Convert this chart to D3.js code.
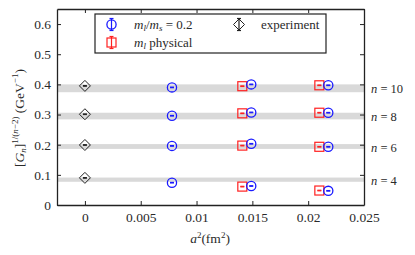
<!DOCTYPE html>
<html>
<head>
<meta charset="utf-8">
<script src="https://cdn.jsdelivr.net/npm/d3@7"></script>
<style>
  body { margin: 0; background: #fff; }
  text { font-family: 'Liberation Serif', 'DejaVu Serif', serif; fill: #2a2a2a; }
</style>
</head>
<body>
<div id="app"></div>
<script>
// values
var nValues = [4, 6, 8, 10]
var bandCenter = [0.084, 0.194, 0.295, 0.387]
var bandHalf = [0.007, 0.008, 0.011, 0.013]
var experiment = [0.090, 0.199, 0.301, 0.395]

var blueA2 = [0.0078, 0.0149, 0.0218]
var blueVals = [
  [0.074, 0.063, 0.047],
  [0.196, 0.203, 0.193],
  [0.296, 0.307, 0.306],
  [0.390, 0.400, 0.397]
]
var redA2 = [0.0141, 0.0210]
var redVals = [
  [0.061, 0.048],
  [0.197, 0.193],
  [0.304, 0.306],
  [0.394, 0.397]
]
var errBar = 0.003

var xTicks = [0, 0.005, 0.01, 0.015, 0.02, 0.025]
var yTicks = [0, 0.1, 0.2, 0.3, 0.4, 0.5, 0.6]

var W = 415, H = 255
var m = { left: 57, right: 51, top: 9, bottom: 50 }
var fs = 13.5

var svg = d3.select('#app').append('svg')
  .attr('width', W).attr('height', H)

var x = d3.scaleLinear().domain([-0.0025, 0.025]).range([m.left, W - m.right])
var y = d3.scaleLinear().domain([0, 0.65]).range([H - m.bottom, m.top])

// bands
svg.append('g').selectAll('rect').data(nValues).enter().append('rect')
  .attr('x', x.range()[0])
  .attr('width', x.range()[1] - x.range()[0])
  .attr('y', function(d, i) { return y(bandCenter[i] + bandHalf[i]) })
  .attr('height', function(d, i) { return y(bandCenter[i] - bandHalf[i]) - y(bandCenter[i] + bandHalf[i]) })
  .attr('fill', '#d9d9d9')

// axes, ticks pointing inward
var fmt = function(d) { return d === 0 ? '0' : String(+d.toFixed(3)) }
var gx = svg.append('g').attr('transform', 'translate(0,' + y.range()[0] + ')')
  .call(d3.axisBottom(x).tickValues(xTicks).tickFormat(fmt).tickSizeInner(-4).tickSizeOuter(0).tickPadding(7))
var gxt = svg.append('g').attr('transform', 'translate(0,' + y.range()[1] + ')')
  .call(d3.axisTop(x).tickValues(xTicks).tickFormat('').tickSizeInner(-4).tickSizeOuter(0))
var gy = svg.append('g').attr('transform', 'translate(' + x.range()[0] + ',0)')
  .call(d3.axisLeft(y).tickValues(yTicks).tickFormat(fmt).tickSizeInner(-4).tickSizeOuter(0).tickPadding(6))
var gyr = svg.append('g').attr('transform', 'translate(' + x.range()[1] + ',0)')
  .call(d3.axisRight(y).tickValues(yTicks).tickFormat('').tickSizeInner(-4).tickSizeOuter(0))

;[gx, gxt, gy, gyr].forEach(function(g) {
  g.select('.domain').attr('stroke', '#222').attr('stroke-width', 1.3)
  g.selectAll('.tick line').attr('stroke', '#222')
  g.selectAll('.tick text').attr('font-size', fs).attr('font-family', "'Liberation Serif', serif").attr('fill', '#333')
})

// markers
function errLine(g, cx, cy, half, color) {
  g.append('line').attr('x1', cx).attr('x2', cx).attr('y1', cy - half).attr('y2', cy + half)
    .attr('stroke', color).attr('stroke-width', 1.2)
  g.append('line').attr('x1', cx - 2).attr('x2', cx + 2).attr('y1', cy - half).attr('y2', cy - half)
    .attr('stroke', color).attr('stroke-width', 1.2)
  g.append('line').attr('x1', cx - 2).attr('x2', cx + 2).attr('y1', cy + half).attr('y2', cy + half)
    .attr('stroke', color).attr('stroke-width', 1.2)
}
function circleMark(g, cx, cy, half) {
  g.append('circle').attr('cx', cx).attr('cy', cy).attr('r', 4.6)
    .attr('fill', 'none').attr('stroke', '#1a1aff').attr('stroke-width', 1.3)
  errLine(g, cx, cy, half, '#1a1aff')
}
function squareMark(g, cx, cy, half) {
  g.append('rect').attr('x', cx - 4.5).attr('y', cy - 4.5).attr('width', 9).attr('height', 9)
    .attr('fill', 'none').attr('stroke', '#ff2020').attr('stroke-width', 1.2)
  errLine(g, cx, cy, half, '#ff2020')
}
function diamondMark(g, cx, cy, half) {
  g.append('path').attr('d', 'M' + cx + ',' + (cy - 5.5) + 'L' + (cx + 5.5) + ',' + cy + 'L' + cx + ',' + (cy + 5.5) + 'L' + (cx - 5.5) + ',' + cy + 'Z')
    .attr('fill', 'none').attr('stroke', '#222').attr('stroke-width', 1)
  errLine(g, cx, cy, half, '#222')
}

var marks = svg.append('g')
var eh = function(v) { return Math.abs(y(v) - y(v + errBar)) }
nValues.forEach(function(n, i) {
  diamondMark(marks, x(0), y(experiment[i]), eh(experiment[i]) * 0.3)
  redA2.forEach(function(a, j) {
    squareMark(marks, x(a), y(redVals[i][j]), eh(redVals[i][j]) * 0.3)
  })
  blueA2.forEach(function(a, j) {
    circleMark(marks, x(a), y(blueVals[i][j]), eh(blueVals[i][j]) * 0.3)
  })
})

// n labels on the right
svg.append('g').selectAll('text').data(nValues).enter().append('text')
  .attr('x', x.range()[1] + 7)
  .attr('y', function(d, i) { return y(bandCenter[i]) + 5 })
  .attr('font-size', 12.5)
  .each(function(d) {
    var t = d3.select(this)
    t.append('tspan').attr('font-style', 'italic').text('n')
    t.append('tspan').text(' = ' + d)
  })

// legend
var lg = svg.append('g')
lg.append('rect').attr('x', 95).attr('y', 14).attr('width', 231).attr('height', 39)
  .attr('fill', '#fff').attr('stroke', '#222').attr('stroke-width', 1.2)
circleMark(lg, 111.5, 24.5, 6)
squareMark(lg, 111.5, 42.5, 6)
diamondMark(lg, 239, 24.5, 6)
var t1 = lg.append('text').attr('x', 134).attr('y', 29).attr('font-size', 13)
t1.append('tspan').attr('font-style', 'italic').text('m')
t1.append('tspan').attr('font-style', 'italic').attr('font-size', 9).attr('dy', 2).text('l')
t1.append('tspan').attr('dy', -2).text('/')
t1.append('tspan').attr('font-style', 'italic').text('m')
t1.append('tspan').attr('font-style', 'italic').attr('font-size', 9).attr('dy', 2).text('s')
t1.append('tspan').attr('dy', -2).text(' = 0.2')
var t2 = lg.append('text').attr('x', 134).attr('y', 46.5).attr('font-size', 13)
t2.append('tspan').attr('font-style', 'italic').text('m')
t2.append('tspan').attr('font-style', 'italic').attr('font-size', 9).attr('dy', 2).text('l')
t2.append('tspan').attr('dy', -2).text(' physical')
lg.append('text').attr('x', 261).attr('y', 29).attr('font-size', 13).text('experiment')

// axis titles
var xl = svg.append('text').attr('x', 210).attr('y', 243).attr('text-anchor', 'middle').attr('font-size', 13.5)
xl.append('tspan').attr('font-style', 'italic').text('a')
xl.append('tspan').attr('font-size', 9).attr('dy', -5).text('2')
xl.append('tspan').attr('dy', 5).text('(fm')
xl.append('tspan').attr('font-size', 9).attr('dy', -5).text('2')
xl.append('tspan').attr('dy', 5).text(')')

var yl = svg.append('text').attr('transform', 'translate(24,' + 118 + ') rotate(-90)')
  .attr('text-anchor', 'middle').attr('font-size', 13.5)
yl.append('tspan').text('[')
yl.append('tspan').attr('font-style', 'italic').text('G')
yl.append('tspan').attr('font-style', 'italic').attr('font-size', 9).attr('dy', 2).text('n')
yl.append('tspan').attr('dy', -2).text(']')
yl.append('tspan').attr('font-size', 9).attr('dy', -6).text('1/(')
yl.append('tspan').attr('font-size', 9).attr('font-style', 'italic').text('n')
yl.append('tspan').attr('font-size', 9).text('\u22122)')
yl.append('tspan').attr('dy', 6).text('  (GeV')
yl.append('tspan').attr('font-size', 9).attr('dy', -6).text('\u22121')
yl.append('tspan').attr('dy', 6).text(')')
</script>
</body>
</html>
